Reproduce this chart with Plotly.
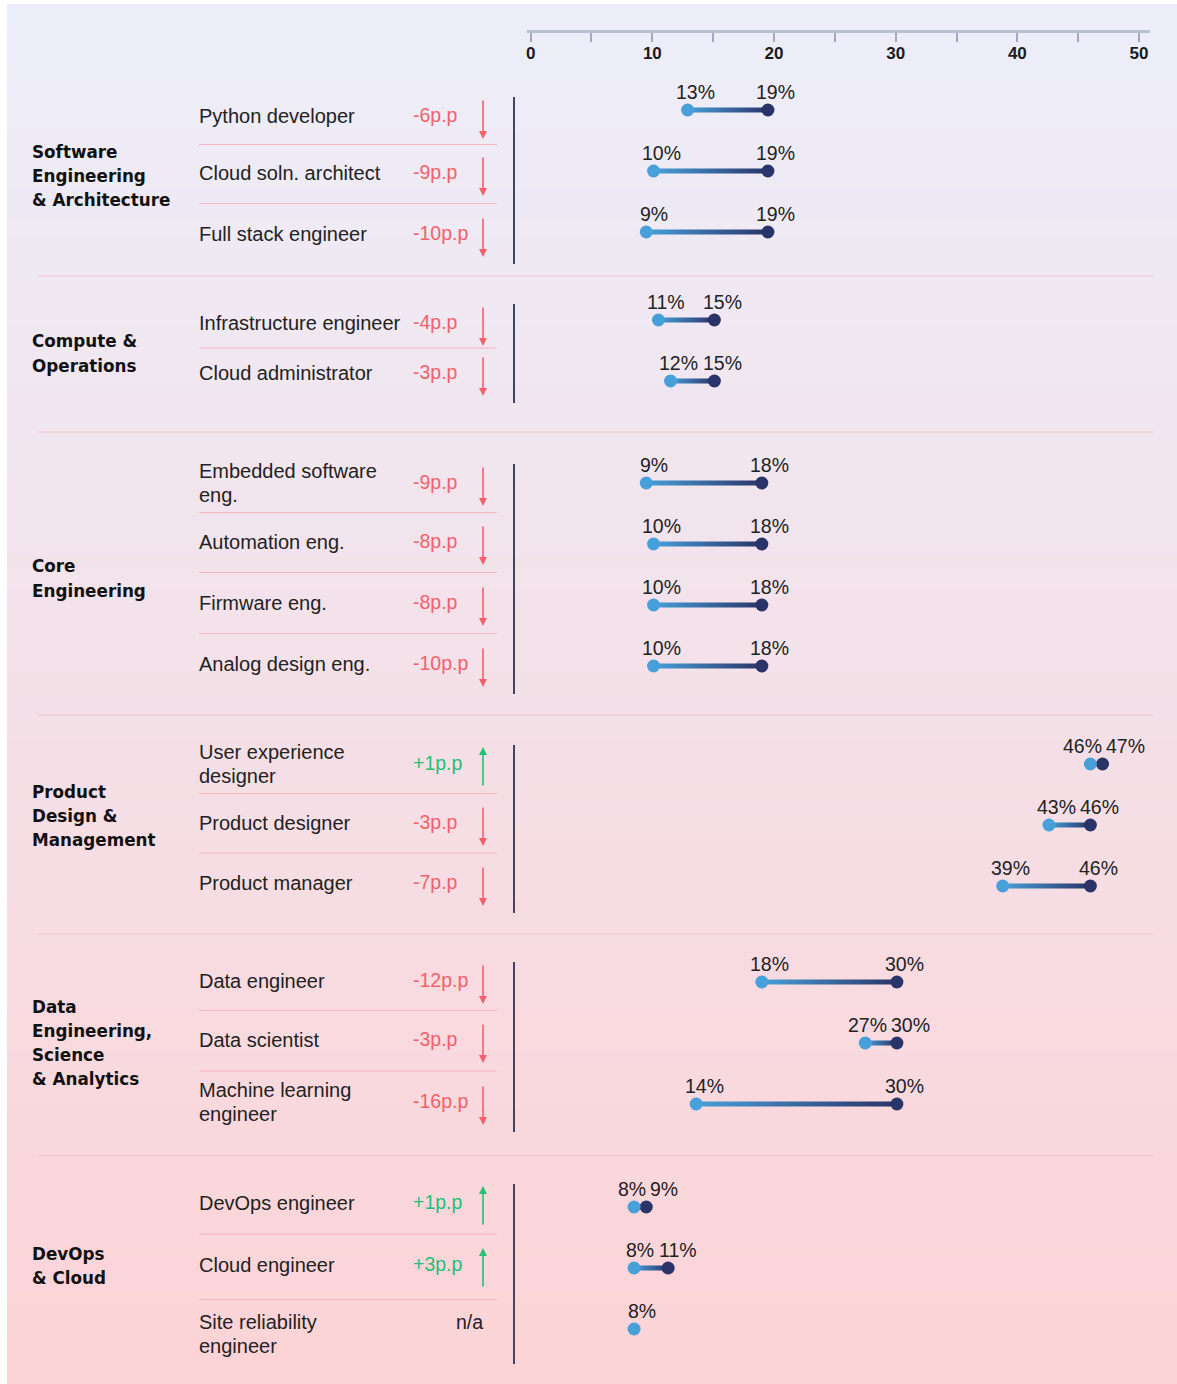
import plotly.graph_objects as go

# ---------------- DATA ----------------
group_names = [
    ["Software", "Engineering", "& Architecture"],
    ["Compute &", "Operations"],
    ["Core", "Engineering"],
    ["Product", "Design &", "Management"],
    ["Data", "Engineering,", "Science", "& Analytics"],
    ["DevOps", "& Cloud"],
]
roles = [
    "Python developer", "Cloud soln. architect", "Full stack engineer",
    "Infrastructure engineer", "Cloud administrator",
    "Embedded software<br>eng.", "Automation eng.", "Firmware eng.", "Analog design eng.",
    "User experience<br>designer", "Product designer", "Product manager",
    "Data engineer", "Data scientist", "Machine learning<br>engineer",
    "DevOps engineer", "Cloud engineer", "Site reliability<br>engineer",
]
role_group = [0, 0, 0, 1, 1, 2, 2, 2, 2, 3, 3, 3, 4, 4, 4, 5, 5, 5]
low_vals = [12.9, 10.1, 9.5, 10.5, 11.5, 9.5, 10.1, 10.1, 10.1,
            46.0, 42.6, 38.8, 19.0, 27.5, 13.6, 8.5, 8.5, 8.5]
high_vals = [19.5, 19.5, 19.5, 15.1, 15.1, 19.0, 19.0, 19.0, 19.0,
             47.0, 46.0, 46.0, 30.1, 30.1, 30.1, 9.5, 11.3, None]
low_labels = ["13%", "10%", "9%", "11%", "12%", "9%", "10%", "10%", "10%",
              "46%", "43%", "39%", "18%", "27%", "14%", "8%", "8%", "8%"]
high_labels = ["19%", "19%", "19%", "15%", "15%", "18%", "18%", "18%", "18%",
               "47%", "46%", "46%", "30%", "30%", "30%", "9%", "11%", None]
changes = ["-6p.p", "-9p.p", "-10p.p", "-4p.p", "-3p.p", "-9p.p", "-8p.p", "-8p.p", "-10p.p",
           "+1p.p", "-3p.p", "-7p.p", "-12p.p", "-3p.p", "-16p.p", "+1p.p", "+3p.p", "n/a"]
tick_vals = [0, 10, 20, 30, 40, 50]
minor_tick_vals = [5, 15, 25, 35, 45]

# ---------------- LAYOUT CONSTANTS ----------------
W, H = 1177, 1384
GROUP_FIRST_Y = [110, 320, 483, 764, 982, 1207]
PITCH = 61
GROUP_LABEL_DY = [5, 3, 4, -9, 0, -2]
TABLE_DY = [6, 2, 2, 3, -8, 0, -2, -2, -2, 0, -2, -3, -1, -3, -2, -4, -3, 5]
X_DOM_PX = (527, 1150)
X_RANGE = (-0.3, 50.9)
PPU = (X_DOM_PX[1] - X_DOM_PX[0]) / (X_RANGE[1] - X_RANGE[0])
LINE_HALF = 2.5  # half thickness of connector, in pixel units of the y axis

LIGHT = (72, 160, 218)
DARK = (42, 52, 104)
RED = "#f2616c"
GREEN = "#27be78"
TXT = "#222222"
SANS = "Liberation Sans, Arial, sans-serif"
BOLD = "DejaVu Sans, Verdana, sans-serif"

def rgb(c):
    return "rgb(%d,%d,%d)" % tuple(int(round(v)) for v in c)

def mix(a, b, t):
    return tuple(a[i] + (b[i] - a[i]) * t for i in range(3))

def px(x):
    return x / W

# row y positions
row_y = []
counters = {}
for g in role_group:
    k = counters.get(g, 0)
    row_y.append(GROUP_FIRST_Y[g] + k * PITCH)
    counters[g] = k + 1
table_y = [y + d for y, d in zip(row_y, TABLE_DY)]

fig = go.Figure()

# gradient connector bars (horizontal fill gradient)
for lo, hi, y in zip(low_vals, high_vals, row_y):
    if hi is None:
        continue
    fig.add_trace(go.Scatter(
        x=[lo, hi, hi, lo, lo],
        y=[y - LINE_HALF, y - LINE_HALF, y + LINE_HALF, y + LINE_HALF, y - LINE_HALF],
        mode="lines", fill="toself", line=dict(width=0),
        fillgradient=dict(type="horizontal",
                          colorscale=[[0, rgb(LIGHT)], [1, rgb(DARK)]]),
        hoverinfo="skip", showlegend=False))

fig.add_trace(go.Scatter(x=[h for h in high_vals if h is not None],
                         y=[y for h, y in zip(high_vals, row_y) if h is not None],
                         mode="markers", marker=dict(size=13, color=rgb(DARK)),
                         hoverinfo="skip", showlegend=False))
fig.add_trace(go.Scatter(x=low_vals, y=row_y, mode="markers",
                         marker=dict(size=13, color=rgb(LIGHT)),
                         hoverinfo="skip", showlegend=False))

annotations = []
shapes = []

# background gradient
TOP_C = (236, 238, 250)
BOT_C = (252, 211, 214)
NB = 120
y_start = 4
for i in range(NB):
    y0 = y_start + (H - y_start) * i / NB
    y1 = y_start + (H - y_start) * (i + 1) / NB + 0.6
    shapes.append(dict(type="rect", xref="paper", yref="y", x0=px(7), x1=1,
                       y0=y0, y1=y1, fillcolor=rgb(mix(TOP_C, BOT_C, (i + 0.5) / NB)),
                       line=dict(width=0), layer="below"))

# percentage labels with collision avoidance
def lab_w(s):
    return sum(0.889 if ch == "%" else 0.556 for ch in s) * 19.5

for lo, hi, ll, hl, y in zip(low_vals, high_vals, low_labels, high_labels, row_y):
    c1 = lo * PPU + 8
    w1 = lab_w(ll)
    if hi is not None:
        c2 = hi * PPU + 8
        w2 = lab_w(hl)
        req = (w1 + w2) / 2 + 4
        if c2 - c1 < req:
            mid = (c1 + c2) / 2
            c1, c2 = mid - req / 2, mid + req / 2
        annotations.append(dict(x=hi, y=y - 18, xref="x", yref="y", text=hl, showarrow=False,
                                xshift=c2 - hi * PPU, font=dict(family=SANS, size=19.5, color=TXT)))
    annotations.append(dict(x=lo, y=y - 18, xref="x", yref="y", text=ll, showarrow=False,
                            xshift=c1 - lo * PPU, font=dict(family=SANS, size=19.5, color=TXT)))

# left table
for i, (role, ch, y) in enumerate(zip(roles, changes, table_y)):
    lines = role.split("<br>")
    offs = [0] if len(lines) == 1 else [-12, 12]
    for ln, o in zip(lines, offs):
        annotations.append(dict(x=px(197), y=y + o, xref="paper", yref="y", text=ln,
                                showarrow=False, xanchor="left",
                                font=dict(family=SANS, size=20, color=TXT)))
    if ch == "n/a":
        annotations.append(dict(x=px(485), y=y - 12, xref="paper", yref="y", text=ch,
                                showarrow=False, xanchor="right",
                                font=dict(family=SANS, size=19.5, color=TXT)))
    else:
        up = ch.startswith("+")
        col = GREEN if up else RED
        annotations.append(dict(x=px(411), y=y - 1, xref="paper", yref="y", text=ch,
                                showarrow=False, xanchor="left",
                                font=dict(family=SANS, size=19.5, color=col)))
        c = y + 3
        if up:
            annotations.append(dict(x=px(483), y=c - 20, xref="paper", yref="y", text="",
                                    showarrow=True, ax=0, ay=40, arrowhead=2, arrowsize=1,
                                    arrowwidth=1.6, arrowcolor=col, standoff=0))
        else:
            annotations.append(dict(x=px(483), y=c + 20, xref="paper", yref="y", text="",
                                    showarrow=True, ax=0, ay=-40, arrowhead=2, arrowsize=1,
                                    arrowwidth=1.6, arrowcolor=col, standoff=0))

# row separators, group separators, vertical lines, group labels
for g, names in enumerate(group_names):
    ys = [y for y, gg in zip(row_y, role_group) if gg == g]
    ts = [y for y, gg in zip(table_y, role_group) if gg == g]
    for a, b in zip(ts[:-1], ts[1:]):
        m = (a + b) / 2
        shapes.append(dict(type="line", xref="paper", yref="y", x0=px(199), x1=px(497),
                           y0=m, y1=m, line=dict(color="#f4b6bf", width=1)))
    shapes.append(dict(type="line", xref="paper", yref="y", x0=px(514), x1=px(514),
                       y0=ts[0] - 19, y1=ts[-1] + 30, line=dict(color="#3f4468", width=2)))
    if g < len(group_names) - 1:
        nxt = [y for y, gg in zip(row_y, role_group) if gg == g + 1][0]
        m = (ys[-1] + nxt) / 2
        shapes.append(dict(type="line", xref="paper", yref="y", x0=px(38), x1=px(1153),
                           y0=m, y1=m, line=dict(color="#f2c4cb", width=1)))
    center = (ys[0] + ys[-1]) / 2 + GROUP_LABEL_DY[g]
    n = len(names)
    for j, nm in enumerate(names):
        yy = center + (j - (n - 1) / 2) * 24.3
        annotations.append(dict(x=px(30), y=yy, xref="paper", yref="y", text=nm,
                                showarrow=False, xanchor="left",
                                font=dict(family=BOLD, size=16.8, color="#111111", weight="bold")))

fig.update_layout(
    width=W, height=H,
    margin=dict(l=0, r=0, t=0, b=0),
    paper_bgcolor="white", plot_bgcolor="rgba(0,0,0,0)",
    showlegend=False, hovermode=False,
    shapes=shapes, annotations=annotations,
    xaxis=dict(domain=[X_DOM_PX[0] / W, X_DOM_PX[1] / W], range=list(X_RANGE),
               anchor="free", position=1 - 31 / H, side="bottom",
               showgrid=False, zeroline=False,
               showline=True, linecolor="#b9bfd4", linewidth=3,
               ticks="outside", ticklen=9, tickwidth=1.5, tickcolor="#a1a8c2",
               tickvals=tick_vals, ticktext=[str(v) for v in tick_vals],
               ticklabelstandoff=-3,
               tickfont=dict(family=SANS, size=17, color="#1a1a1a", weight="bold"),
               minor=dict(tickvals=minor_tick_vals, ticks="outside", ticklen=9,
                          tickwidth=1.5, tickcolor="#a1a8c2", showgrid=False),
               fixedrange=True),
    yaxis=dict(domain=[0, 1], range=[H, 0], visible=False, fixedrange=True),
)

fig.write_html("out.html")
